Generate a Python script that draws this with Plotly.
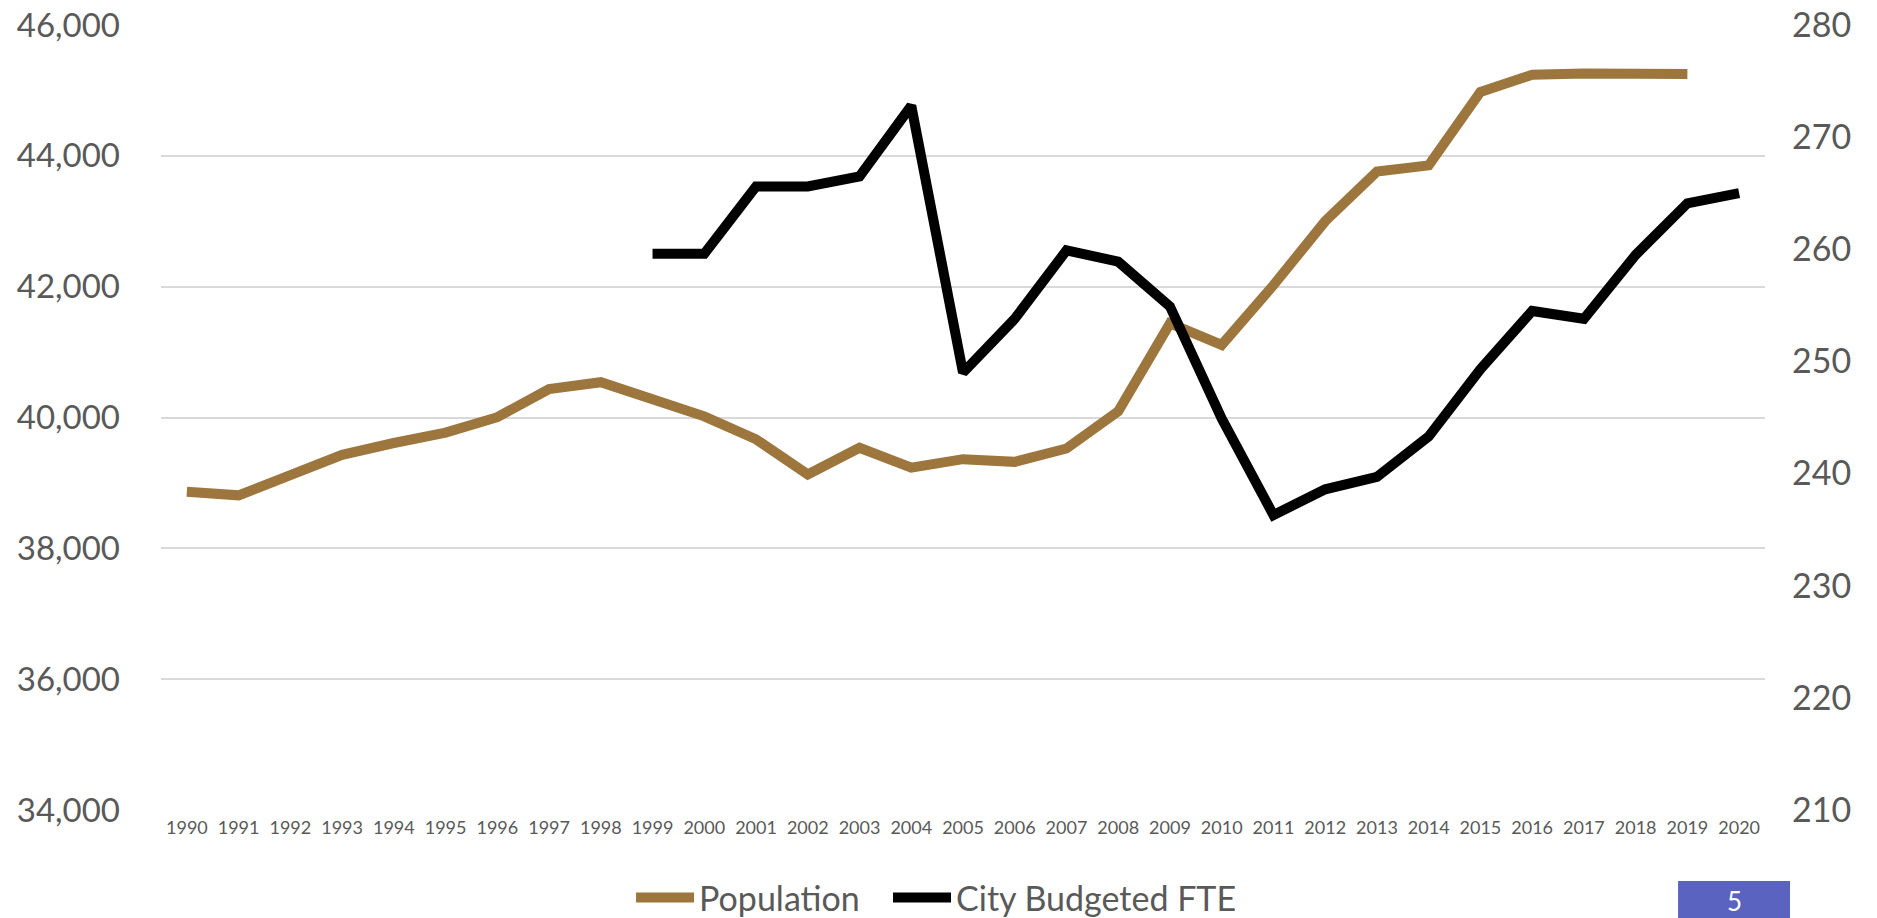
import plotly.graph_objects as go

years = [str(y) for y in range(1990, 2021)]

population = [38866, 38810, 39120, 39430, 39610, 39770, 40005, 40435, 40540,
              40298, 40018, 39667, 39129, 39538, 39234, 39363, 39322, 39526,
              40094, 41439, 41110, 42023, 43000, 43760, 43854, 44977, 45240,
              45257, 45254, 45251, None]

fte = [None, None, None, None, None, None, None, None, None,
       259.6, 259.6, 265.6, 265.6, 266.5, 272.8, 249.0, 253.8, 259.9,
       258.9, 254.9, 244.9, 236.3, 238.6, 239.7, 243.3, 249.3, 254.5,
       253.8, 259.5, 264.1, 265.0]

left_ticks = [34000, 36000, 38000, 40000, 42000, 44000, 46000]
right_ticks = [210, 220, 230, 240, 250, 260, 270, 280]

FONT = "Lato"
GREY = "#595959"

fig = go.Figure()
fig.add_trace(go.Scatter(x=years, y=population, name="Population", mode="lines",
                         line=dict(color="#9C763C", width=10), yaxis="y",
                         connectgaps=False, legend="legend"))
fig.add_trace(go.Scatter(x=years, y=fte, name="City Budgeted FTE", mode="lines",
                         line=dict(color="#000000", width=10), yaxis="y2",
                         connectgaps=False, legend="legend2"))

legend_common = dict(orientation="h", xref="container", yref="container",
                     xanchor="left", y=0.022, yanchor="middle",
                     font=dict(size=34, color=GREY, family=FONT),
                     itemwidth=58, bgcolor="rgba(0,0,0,0)")

fig.update_layout(
    width=1877, height=918,
    margin=dict(l=161, r=112, t=25, b=108, autoexpand=False),
    paper_bgcolor="white", plot_bgcolor="white",
    font=dict(family=FONT, color=GREY),
    xaxis=dict(type="category", categoryorder="array", categoryarray=years,
               range=[-0.5, len(years) - 0.5], automargin=False,
               showgrid=False, showline=False, zeroline=False, ticks="",
               tickfont=dict(size=18, color=GREY, family=FONT),
               ticklabelstandoff=5, tickangle=0),
    yaxis=dict(range=[34000, 46000], tickvals=left_ticks, tickformat=",",
               automargin=False,
               showgrid=True, gridcolor="#D9D9D9", gridwidth=1.5,
               zeroline=False, showline=False, ticks="",
               tickfont=dict(size=33, color=GREY, family=FONT),
               ticklabelstandoff=40),
    yaxis2=dict(range=[210, 280], tickvals=right_ticks, overlaying="y",
                side="right", showgrid=False, zeroline=False, showline=False,
                automargin=False,
                ticks="", tickfont=dict(size=34, color=GREY, family=FONT),
                ticklabelstandoff=26),
    legend=dict(x=0.3362, **legend_common),
    legend2=dict(x=0.4731, **legend_common),
    showlegend=True,
)

fig.add_shape(type="rect", xref="paper", yref="paper",
              x0=0.9458, x1=1.0156, y0=-0.0904, y1=-0.15,
              fillcolor="#5A63BF", line=dict(width=0), layer="above")
fig.add_annotation(text="5", xref="paper", yref="paper", x=0.9807, y=-0.1165,
                   showarrow=False, font=dict(size=26, color="white", family=FONT),
                   xanchor="center", yanchor="middle")

fig.write_html("out.html")
